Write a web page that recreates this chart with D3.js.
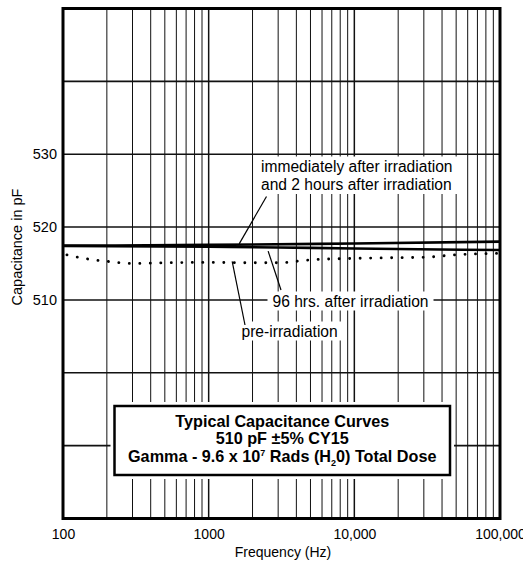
<!DOCTYPE html>
<html>
<head>
<meta charset="utf-8">
<script src="https://cdn.jsdelivr.net/npm/d3@7"></script>
<style>
    body { margin: 0; background: #fff; }
    svg { display: block; font-family: "Liberation Sans", Arial, Helvetica, sans-serif; }
</style>
</head>
<body>
<svg id="chart" width="523" height="563"></svg>
<script>
// series (frequency in Hz, capacitance in pF)
const freqImmediate = [100, 1000, 10000, 100000];
const capImmediate  = [517.45, 517.55, 517.75, 518.0];

const freq96h = [100, 1000, 3000, 10000, 100000];
const cap96h  = [517.4, 517.3, 517.2, 517.05, 516.85];

const freqPre = [100, 150, 200, 300, 500, 1000, 2000, 3000, 5000, 10000, 20000, 30000, 50000, 100000];
const capPre  = [516.3, 515.6, 515.3, 515.0, 515.1, 515.15, 515.1, 515.1, 515.5, 515.7, 515.8, 515.85, 516.2, 516.4];

const xTickValues = [100, 1000, 10000, 100000];
const xTickLabels = ["100", "1000", "10,000", "100,000"];
const yTickValues = [510, 520, 530];
const yGridValues = [490, 500, 510, 520, 530, 540];

const titleLines = ["Typical Capacitance Curves", "510 pF \u00B15% CY15"];

const svg = d3.select("#chart");

const plotLeft = 63, plotRight = 500, plotTop = 8.5, plotBottom = 518.5;

const x = d3.scaleLog().domain([100, 100000]).range([plotLeft, plotRight]);
const y = d3.scaleLinear().domain([480, 550]).range([plotBottom, plotTop]);

// grid
const grid = svg.append("g");
grid.selectAll("line.v")
    .data(x.ticks())
    .join("line")
    .attr("class", "v")
    .attr("x1", d => x(d)).attr("x2", d => x(d))
    .attr("y1", plotTop).attr("y2", plotBottom)
    .attr("stroke", "#111")
    .attr("stroke-width", d => Math.abs(Math.log10(d) % 1) < 1e-9 ? 1.5 : 1);

grid.selectAll("line.h")
    .data(yGridValues)
    .join("line")
    .attr("class", "h")
    .attr("x1", plotLeft).attr("x2", plotRight)
    .attr("y1", d => y(d)).attr("y2", d => y(d))
    .attr("stroke", "#111")
    .attr("stroke-width", 1.6);

// curves
const line = d3.line()
    .x(d => x(d[0]))
    .y(d => y(d[1]))
    .curve(d3.curveMonotoneX);

svg.append("path")
    .datum(d3.zip(freqPre, capPre))
    .attr("d", line)
    .attr("fill", "none")
    .attr("stroke", "#000")
    .attr("stroke-width", 2.8)
    .attr("stroke-linecap", "round")
    .attr("stroke-dasharray", "0.1,10.4")
    .attr("stroke-dashoffset", -4);

svg.append("path")
    .datum(d3.zip(freq96h, cap96h))
    .attr("d", line)
    .attr("fill", "none")
    .attr("stroke", "#000")
    .attr("stroke-width", 2.6);

svg.append("path")
    .datum(d3.zip(freqImmediate, capImmediate))
    .attr("d", line)
    .attr("fill", "none")
    .attr("stroke", "#000")
    .attr("stroke-width", 2.6);

// frame
svg.append("rect")
    .attr("x", plotLeft).attr("y", plotTop)
    .attr("width", plotRight - plotLeft).attr("height", plotBottom - plotTop)
    .attr("fill", "none")
    .attr("stroke", "#000")
    .attr("stroke-width", 3);

// axes (labels only)
const xAxis = svg.append("g")
    .attr("transform", `translate(0,${plotBottom})`)
    .call(d3.axisBottom(x).tickValues(xTickValues).tickSize(0).tickPadding(11)
        .tickFormat((d, i) => xTickLabels[i]));
xAxis.select(".domain").remove();
xAxis.selectAll("text").attr("font-size", 14).attr("font-family", null).attr("fill", "#000");

const yAxis = svg.append("g")
    .attr("transform", `translate(${plotLeft},0)`)
    .call(d3.axisLeft(y).tickValues(yTickValues).tickSize(0).tickPadding(6));
yAxis.select(".domain").remove();
yAxis.selectAll("text").attr("font-size", 14.5).attr("font-family", null).attr("fill", "#000");

svg.append("text")
    .attr("x", 283).attr("y", 557)
    .attr("text-anchor", "middle")
    .attr("font-size", 14)
    .text("Frequency (Hz)");

svg.append("text")
    .attr("transform", "translate(22,247) rotate(-90)")
    .attr("text-anchor", "middle")
    .attr("font-size", 14.5)
    .text("Capacitance in pF");

// annotations with leaders
const annotations = [
    {lines: ["immediately after irradiation", "and 2 hours after irradiation"], tx: 261, ty: 171.5,
     from: [266.5, 196.5], tip: [1620, 517.7]},
    {lines: ["96 hrs. after irradiation"], tx: 272.5, ty: 306.5,
     from: [281, 290], tip: [2560, 516.7]},
    {lines: ["pre-irradiation"], tx: 241.5, ty: 336.5,
     from: [245, 325], tip: [1450, 515.3]}
];

annotations.forEach(a => {
    const g = svg.append("g");
    const bg = g.append("rect").attr("fill", "#fff");
    const t = g.append("text")
        .attr("font-size", 15.6)
        .attr("fill", "#000");
    a.lines.forEach((s, i) => {
        t.append("tspan").attr("x", a.tx).attr("y", a.ty + i * 18.5).text(s);
    });
    const bb = t.node().getBBox();
    bg.attr("x", bb.x - 5).attr("y", bb.y - 1)
        .attr("width", bb.width + 10).attr("height", bb.height + 2);
    svg.append("line")
        .attr("x1", a.from[0]).attr("y1", a.from[1])
        .attr("x2", x(a.tip[0])).attr("y2", y(a.tip[1]))
        .attr("stroke", "#000")
        .attr("stroke-width", 1.2);
});

// title box
const box = {x: 114.5, y: 406, w: 335.5, h: 69};
svg.append("rect")
    .attr("x", box.x - 4).attr("y", box.y - 4)
    .attr("width", box.w + 8).attr("height", box.h + 8)
    .attr("fill", "#fff");
svg.append("rect")
    .attr("x", box.x).attr("y", box.y)
    .attr("width", box.w).attr("height", box.h)
    .attr("fill", "#fff")
    .attr("stroke", "#000")
    .attr("stroke-width", 2.5);

const cx = box.x + box.w / 2;
const title = svg.append("text")
    .attr("text-anchor", "middle")
    .attr("font-size", 16.2)
    .attr("font-weight", "bold");
titleLines.forEach((s, i) => {
    title.append("tspan").attr("x", cx).attr("y", 427 + i * 17).text(s);
});
const l3 = title.append("tspan").attr("x", cx).attr("y", 461.5);
l3.append("tspan").text("Gamma - 9.6 x 10");
l3.append("tspan").attr("font-size", 9).attr("dy", -6).text("7");
l3.append("tspan").attr("dy", 6).text(" Rads (H");
l3.append("tspan").attr("font-size", 9).attr("dy", 4).text("2");
l3.append("tspan").attr("dy", -4).text("0) Total Dose");
</script>
</body>
</html>
